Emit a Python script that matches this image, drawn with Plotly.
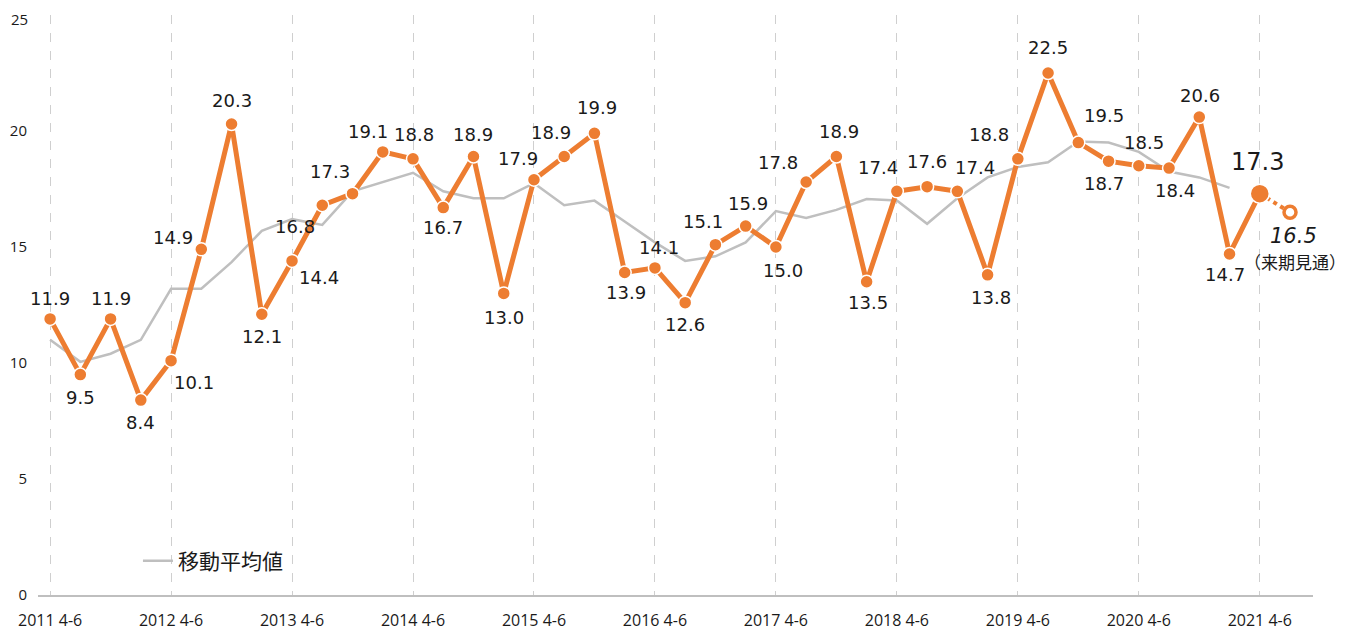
import plotly.graph_objects as go

# ---- data ----
years = [str(y) for y in range(2011, 2022)]
quarter_names = ["4-6", "7-9", "10-12", "1-3"]
quarters = []
for y in range(2011, 2022):
    for q in quarter_names:
        quarters.append(f"{y} {q}" if q != "1-3" else f"{y + 1} {q}")
quarters = quarters[:42]  # 2011 4-6 ... 2021 7-9 (forecast)

values = [11.9, 9.5, 11.9, 8.4, 10.1, 14.9, 20.3, 12.1, 14.4, 16.8, 17.3, 19.1,
          18.8, 16.7, 18.9, 13.0, 17.9, 18.9, 19.9, 13.9, 14.1, 12.6, 15.1, 15.9,
          15.0, 17.8, 18.9, 13.5, 17.4, 17.6, 17.4, 13.8, 18.8, 22.5, 19.5, 18.7,
          18.5, 18.4, 20.6, 14.7, 17.3]
forecast_value = 16.5
forecast_note = "（来期見通）"

moving_avg = [11.0, 10.05, 10.4, 11.0, 13.2, 13.2, 14.35, 15.7, 16.2, 15.95, 17.4, 17.8,
              18.2, 17.4, 17.1, 17.1, 17.75, 16.8, 17.0, 16.1, 15.2, 14.4, 14.6, 15.2,
              16.55, 16.25, 16.6, 17.07, 17.0, 16.0, 17.1, 18.0, 18.45, 18.65, 19.55, 19.5,
              19.1, 18.25, 18.0, 17.55]

tick_labels = [f"{y} 4-6" for y in years]
y_ticks = [0, 5, 10, 15, 20, 25]
legend_name = "移動平均値"

# label offsets (pixels: dx right, dy down) - style only
label_offsets = [(0, -20), (0, 23), (0, -20), (0, 22), (23, 22), (-28, -12), (0, -24), (0, 22),
                 (27, 17), (-27, 21), (-23, -22), (-15, -20), (1, -24), (0, 20), (0, -22), (0, 24),
                 (-16, -21), (-13, -24), (3, -26), (1, 20), (4, -20), (0, 22), (-12, -23), (2, -23),
                 (7, 23), (-28, -20), (3, -25), (1, 21), (-19, -24), (0, -25), (18, -24), (3, 23),
                 (-29, -24), (0, -26), (26, -27), (-5, 22), (5, -23), (6, 22), (1, -22), (-5, 21),
                 (-2, -32)]

ORANGE = "#ED7D31"
GRAY = "#BFBFBF"
TXT = "#1a1a1a"
FONT = "Open Sans, Noto Sans CJK JP, sans-serif"
LBL = "DejaVu Sans, sans-serif"
CJK = "Noto Sans CJK JP, sans-serif"

fig = go.Figure()

fig.add_trace(go.Scatter(
    x=quarters[:len(moving_avg)], y=moving_avg, mode="lines",
    line=dict(color=GRAY, width=2.5), name=legend_name, showlegend=True,
    hoverinfo="skip"))

# forecast dotted segment
fig.add_trace(go.Scatter(
    x=[quarters[len(values) - 1], quarters[len(values)]],
    y=[values[-1], forecast_value], mode="lines",
    line=dict(color=ORANGE, width=4, dash="dot"), showlegend=False))

fig.add_trace(go.Scatter(
    x=quarters[:len(values)], y=values, mode="lines+markers",
    line=dict(color=ORANGE, width=5),
    marker=dict(size=[13] * (len(values) - 1) + [19], color=ORANGE, opacity=1,
                line=dict(color="white", width=1.5)),
    showlegend=False))

fig.add_trace(go.Scatter(
    x=[quarters[len(values)]], y=[forecast_value], mode="markers",
    marker=dict(size=12, color="white", opacity=1, line=dict(color=ORANGE, width=3.5)),
    showlegend=False))

for i, v in enumerate(values):
    dx, dy = label_offsets[i]
    big = i == len(values) - 1
    fig.add_annotation(x=quarters[i], y=v, text=f"{v:.1f}", showarrow=False,
                       xshift=dx, yshift=-dy,
                       font=dict(size=24 if big else 18, color=TXT, family=LBL))

fig.add_annotation(x=quarters[len(values)], y=forecast_value,
                   text=f"<i>{forecast_value:.1f}</i>", showarrow=False,
                   xshift=3, yshift=-24, font=dict(size=21, color=TXT, family=LBL))
fig.add_annotation(x=quarters[len(values)], y=forecast_value,
                   text=forecast_note, showarrow=False,
                   xshift=5, yshift=-49,
                   font=dict(size=17, color=TXT, family=CJK))

# top y tick label drawn as text (the axis hides a label touching the page edge)
fig.add_annotation(xref="paper", x=0, y=y_ticks[-1], yref="y", text=str(y_ticks[-1]),
                   showarrow=False, xanchor="right", yanchor="top", xshift=-9, yshift=7,
                   borderpad=0,
                   font=dict(size=15, color=TXT, family=FONT))

fig.update_layout(
    width=1360, height=630,
    margin=dict(l=30, r=55, t=7, b=43, autoexpand=False),
    plot_bgcolor="white", paper_bgcolor="white",
    font=dict(family=FONT, color=TXT),
    legend=dict(x=0.0784, y=0.0586, xanchor="left", yanchor="middle",
                bgcolor="rgba(0,0,0,0)",
                font=dict(size=21, color=TXT, family=CJK)),
    xaxis=dict(type="category", categoryorder="array", categoryarray=quarters,
               range=[-0.4, 41.76], tickmode="array", tickvals=tick_labels,
               ticktext=tick_labels, showgrid=True, gridcolor="#CFCFCF",
               griddash="dash", gridwidth=1, showline=True, linecolor=GRAY,
               linewidth=1.5, ticks="", ticklabelstandoff=10, automargin=False,
               tickfont=dict(size=16, color=TXT, family=FONT),
               zeroline=False),
    yaxis=dict(range=[0, 25], tickvals=y_ticks[:-1], showgrid=False,
               zeroline=False, showline=False, ticks="", ticklabelstandoff=10,
               automargin=False, tickfont=dict(size=15, color=TXT)),
)

fig.write_html("out.html")
